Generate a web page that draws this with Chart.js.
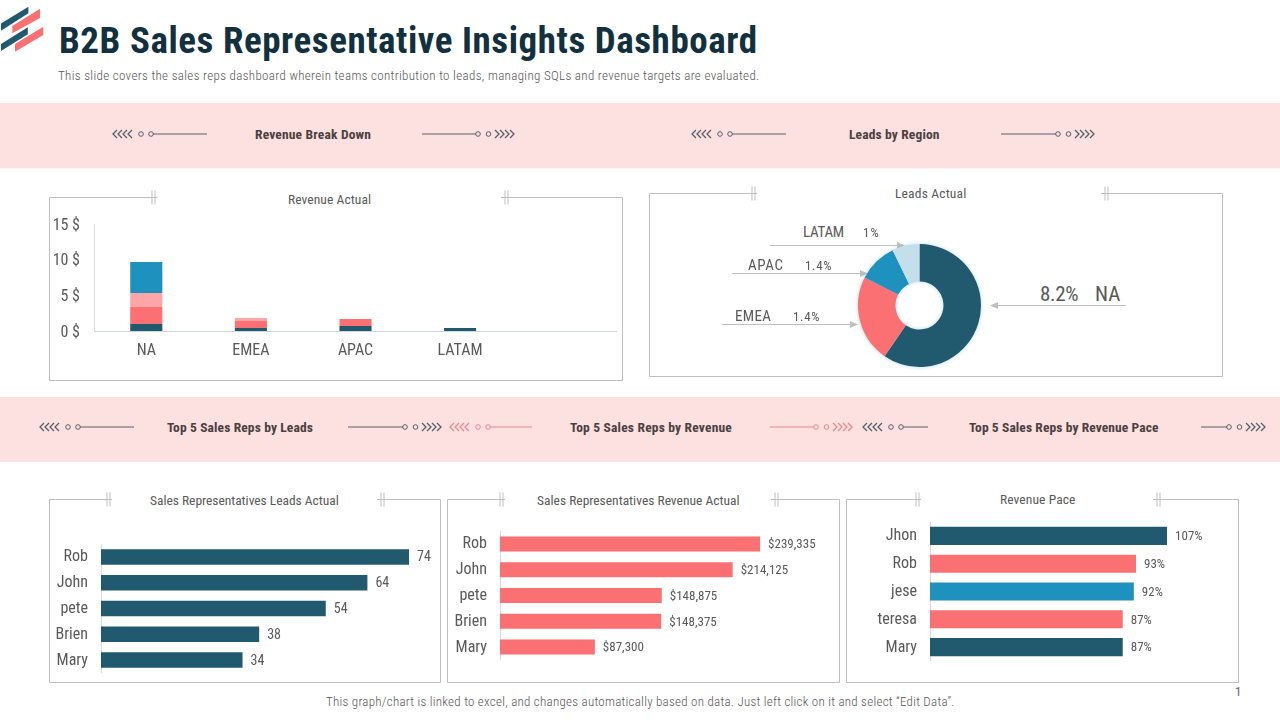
<!DOCTYPE html>
<html>
<head>
<meta charset="utf-8">
<title>B2B Sales Representative Insights Dashboard</title>
<script src="https://cdn.jsdelivr.net/npm/chart.js@4"></script>
<style>
	html, body { margin: 0; padding: 0; background: #fff; }
	#page { position: relative; width: 1280px; height: 720px; overflow: hidden; font-family: "Roboto Condensed", "Liberation Sans", sans-serif; }
	#page canvas { position: absolute; }
	#art { position: absolute; left: 0; top: 0; }
	.txt { position: absolute; white-space: nowrap; line-height: 1; transform: translateY(-50%); }
</style>
</head>
<body>
<div id="page">
	<svg id="art" width="1280" height="720"></svg>
	<canvas id="revenueChart"></canvas>
	<canvas id="regionChart"></canvas>
	<canvas id="leadsChart"></canvas>
	<canvas id="repRevenueChart"></canvas>
	<canvas id="paceChart"></canvas>
</div>
<script>
const revenueRegions = ["NA", "EMEA", "APAC", "LATAM", ""]
const revenueDark = [0.98, 0.42, 0.7, 0.42, 0]
const revenueRed = [2.4, 0.98, 0.98, 0, 0]
const revenuePink = [1.96, 0.42, 0, 0, 0]
const revenueBlue = [4.35, 0, 0, 0, 0]

const leadRegions = ["NA", "EMEA", "APAC", "LATAM"]
const leadShares = [59.6, 22.9, 10.3, 7.2]
const leadPercents = ["8.2%", "1.4%", "1.4%", "1%"]

const leadReps = ["Rob", "John", "pete", "Brien", "Mary"]
const leadValues = [74, 64, 54, 38, 34]

const revenueReps = ["Rob", "John", "pete", "Brien", "Mary"]
const revenueValues = [239335, 214125, 148875, 148375, 87300]

const paceReps = ["Jhon", "Rob", "jese", "teresa", "Mary"]
const paceValues = [107, 93, 92, 87, 87]

const DARK = "#215a6e"
const RED = "#fb7073"
const PINK = "#fda6a7"
const BLUE = "#1f91bf"
const PALE = "#c3dfea"
const GREY = "#bfbfbf"
const FONT = "'Roboto Condensed', 'Liberation Sans', sans-serif"

Chart.defaults.font.family = FONT
Chart.defaults.color = "#595959"
Chart.defaults.animation = false

const page = document.getElementById("page")
const art = document.getElementById("art")

function shape(tag, attrs) {
	let el = document.createElementNS("http://www.w3.org/2000/svg", tag)
	for (let key in attrs) el.setAttribute(key, attrs[key])
	art.appendChild(el)
}

// left/right are the edges the text should span, spacing is stretched to fit
function text(str, left, right, y, size, color, weight) {
	let el = document.createElement("div")
	el.className = "txt"
	el.textContent = str
	el.style.left = left + "px"
	el.style.top = y + "px"
	el.style.fontSize = size + "px"
	el.style.color = color
	if (weight) el.style.fontWeight = weight
	page.appendChild(el)
	let extra = (right - left - el.offsetWidth) / Math.max(str.length - 1, 1)
	el.style.letterSpacing = extra.toFixed(3) + "px"
}

function line(x1, y1, x2, y2, color, width) {
	shape("line", { x1, y1, x2, y2, stroke: color, "stroke-width": width || 1 })
}

function chevrons(x, y, color, dir) {
	for (let i = 0; i < 4; i++) {
		let cx = x + i * 5
		shape("polyline", {
			points: `${cx + 4 * dir},${y - 4} ${cx},${y} ${cx + 4 * dir},${y + 4}`,
			fill: "none", stroke: color, "stroke-width": 1.3
		})
	}
}

function dot(x, y, color) {
	shape("circle", { cx: x, cy: y, r: 2.3, fill: "none", stroke: color, "stroke-width": 1 })
}

function ornamentLeft(start, end, y, color) {
	chevrons(start, y, color, 1)
	dot(start + 28, y, color)
	dot(start + 38, y, color)
	line(start + 40, y, end, y, color)
}

function ornamentRight(start, end, y, color) {
	line(start, y, end - 38, y, color)
	dot(end - 36, y, color)
	dot(end - 25.5, y, color)
	chevrons(end - 15, y, color, -1)
}

function panel(left, top, right, bottom, tickA, tickB) {
	shape("polyline", {
		points: `${tickA + 5},${top} ${left},${top} ${left},${bottom} ${right},${bottom} ${right},${top} ${tickB - 4},${top}`,
		fill: "none", stroke: GREY, "stroke-width": 1
	})
	for (let x of [tickA, tickA + 3, tickB, tickB + 3]) line(x, top - 7, x, top + 7, GREY)
}

function arrow(x1, x2, y) {
	let dir = x2 > x1 ? 1 : -1
	line(x1, y, x2 - 6 * dir, y, GREY, 1.2)
	shape("polygon", { points: `${x2},${y} ${x2 - 8 * dir},${y - 3.5} ${x2 - 8 * dir},${y + 3.5}`, fill: GREY })
}

function place(id, left, top, width, height) {
	let canvas = document.getElementById(id)
	canvas.width = width
	canvas.height = height
	canvas.style.left = left + "px"
	canvas.style.top = top + "px"
	canvas.style.width = width + "px"
	canvas.style.height = height + "px"
	return canvas
}

// logo
shape("polygon", { points: "1,23.5 28.4,6.7 28.4,13.3 1,30.7", fill: DARK })
shape("polygon", { points: "40,8.7 40,18 12.3,33.3 12.3,26", fill: RED })
shape("polygon", { points: "27.8,27.3 27.8,34.3 1,51 1,44", fill: DARK })
shape("polygon", { points: "43.3,26.7 43.3,35 15,51.7 15,44", fill: RED })

// banners
shape("rect", { x: 0, y: 103, width: 1280, height: 65.5, fill: "#fde1e1" })
shape("rect", { x: 0, y: 397, width: 1280, height: 65, fill: "#fde1e1" })

const SLATE = "#56606c"
const ROSE = "#e58a90"
ornamentLeft(113, 207, 134, SLATE)
ornamentRight(422, 514, 134, SLATE)
ornamentLeft(692, 786, 134, SLATE)
ornamentRight(1001, 1094, 134, SLATE)
ornamentLeft(40, 134, 427, SLATE)
ornamentRight(348, 441, 427, SLATE)
ornamentLeft(450, 532, 427, ROSE)
ornamentRight(770, 852, 427, ROSE)
ornamentLeft(863, 928, 427, SLATE)
ornamentRight(1201, 1265, 427, SLATE)

// panels
panel(49.5, 197.5, 622.5, 380.5, 152, 505)
panel(649.5, 193.5, 1222.5, 376.5, 752, 1105)
panel(49.5, 499.5, 440.5, 682.5, 107, 381)
panel(447.5, 499.5, 839.5, 682.5, 500, 775)
panel(846.5, 499.5, 1238.5, 682.5, 916, 1157)

// arrows of the region doughnut
arrow(770, 905, 245.5)
arrow(732, 868, 273.5)
arrow(722, 858, 324.5)
arrow(1126, 990, 305.5)

// texts
text("B2B Sales Representative Insights Dashboard", 59, 757, 40, 37, "#12303e", "bold")
text("This slide covers the sales reps dashboard wherein teams contribution to leads, managing SQLs and revenue targets are evaluated.", 58, 759, 75, 13, "#555555", 300)

const HEAD = "#4a4040"
text("Revenue Break Down", 255, 371, 135, 13.5, HEAD, "bold")
text("Leads by Region", 849, 939, 135, 13.5, HEAD, "bold")
text("Top 5 Sales Reps by Leads", 167, 313, 428, 13.5, HEAD, "bold")
text("Top 5 Sales Reps by Revenue", 570, 732, 428, 13.5, HEAD, "bold")
text("Top 5 Sales Reps by Revenue Pace", 969, 1159, 428, 13.5, HEAD, "bold")

const SUB = "#595959"
text("Revenue Actual", 288, 371, 200, 13.5, SUB)
text("Leads Actual", 895, 966, 194, 13.5, SUB)
text("Sales Representatives Leads Actual", 150, 339, 501, 13.5, SUB)
text("Sales Representatives Revenue Actual", 537, 740, 501, 13.5, SUB)
text("Revenue Pace", 1000, 1075, 500, 13.5, SUB)

text(leadRegions[3], 803, 844, 232, 15, SUB)
text(leadPercents[3], 863, 879, 232, 13, SUB)
text(leadRegions[2], 748, 783, 265, 15, SUB)
text(leadPercents[2], 805, 832, 265, 13, SUB)
text(leadRegions[1], 735, 771, 316, 15, SUB)
text(leadPercents[1], 793, 820, 316, 13, SUB)
text(leadPercents[0], 1040, 1079, 294, 21, SUB)
text(leadRegions[0], 1095, 1120, 294, 21, SUB)

text("This graph/chart is linked to excel, and changes automatically based on data. Just left click on it and select “Edit Data”.", 326, 955, 701, 13, "#555555", 300)
text("1", 1235, 1240, 691, 13, "#666666")

// prints the value right after the end of each bar
const barValues = {
	id: "barValues",
	afterDatasetsDraw(chart, args, options) {
		let ctx = chart.ctx
		ctx.save()
		ctx.font = options.size + "px " + FONT
		ctx.fillStyle = "#595959"
		ctx.textBaseline = "middle"
		chart.getDatasetMeta(0).data.forEach((bar, i) => {
			ctx.fillText(options.format(chart.data.datasets[0].data[i]), bar.x + 8, bar.y + 1)
		})
		ctx.restore()
	}
}

// the tick padding also eats into the plot height, so it is zeroed after the fit
function fixAxis(scale, width) {
	if (width) scale.width = width
	scale.paddingTop = 0
	scale.paddingBottom = 0
}

function repChart(id, names, values, colors, max, axisWidth, barPercent, labelSize, format) {
	return new Chart(document.getElementById(id), {
		type: "bar",
		data: {
			labels: names,
			datasets: [{ data: values, backgroundColor: colors, barPercentage: barPercent, categoryPercentage: 1 }],
		},
		plugins: [barValues],
		options: {
			indexAxis: "y",
			responsive: false,
			maintainAspectRatio: false,
			plugins: {
				legend: { display: false },
				tooltip: { enabled: false },
				barValues: { size: labelSize, format: format },
			},
			scales: {
				x: { display: false, min: 0, max: max },
				y: {
					afterFit: scale => fixAxis(scale, axisWidth),
					grid: { display: false, drawTicks: false },
					border: { color: "#d9d9d9" },
					ticks: { font: { size: 16 }, padding: 13, labelOffset: 0.5, color: "#595959" },
				},
			},
		},
	})
}

place("revenueChart", 49, 210, 568, 160)
new Chart(document.getElementById("revenueChart"), {
	type: "bar",
	data: {
		labels: revenueRegions,
		datasets: [
			{ label: "Dark", data: revenueDark, backgroundColor: DARK },
			{ label: "Red", data: revenueRed, backgroundColor: RED },
			{ label: "Pink", data: revenuePink, backgroundColor: PINK },
			{ label: "Blue", data: revenueBlue, backgroundColor: BLUE },
		],
	},
	options: {
		responsive: false,
		maintainAspectRatio: false,
		layout: { padding: { top: 14 } },
		barPercentage: 0.307,
		categoryPercentage: 1,
		plugins: { legend: { display: false }, tooltip: { enabled: false } },
		scales: {
			x: {
				stacked: true,
				afterFit: scale => { scale.height = 39 },
				grid: { display: false, drawTicks: false },
				border: { color: "#d0d5da" },
				ticks: { font: { size: 16 }, padding: 10, color: "#595959" },
			},
			y: {
				stacked: true,
				min: 0,
				max: 15,
				afterFit: scale => fixAxis(scale, 45),
				grid: { display: false, drawTicks: false },
				border: { color: "#d9d9d9" },
				ticks: { stepSize: 5, font: { size: 16 }, padding: 14, labelOffset: 1.5, color: "#595959", callback: value => value + " $" },
			},
		},
	},
})

place("regionChart", 850, 236, 139, 139).style.filter = "drop-shadow(0 0 2px rgba(110,170,195,0.45))"
new Chart(document.getElementById("regionChart"), {
	type: "doughnut",
	data: {
		labels: leadRegions,
		datasets: [{ data: leadShares, backgroundColor: [DARK, RED, BLUE, PALE], borderWidth: 0 }],
	},
	options: {
		responsive: false,
		maintainAspectRatio: false,
		radius: 61.5,
		cutout: "39%",
		plugins: { legend: { display: false }, tooltip: { enabled: false } },
	},
})

place("leadsChart", 49, 544, 385, 129)
repChart("leadsChart", leadReps, leadValues, DARK, 80, 52, 0.6, 14, value => String(value))

place("repRevenueChart", 450, 531, 376, 129)
repChart("repRevenueChart", revenueReps, revenueValues, RED, 300000, 50, 0.58, 13, value => "$" + value.toLocaleString("en-US"))

place("paceChart", 850, 522, 368, 139)
repChart("paceChart", paceReps, paceValues, [DARK, RED, BLUE, RED, DARK], 130, 80, 0.65, 13, value => value + "%")
</script>
</body>
</html>
